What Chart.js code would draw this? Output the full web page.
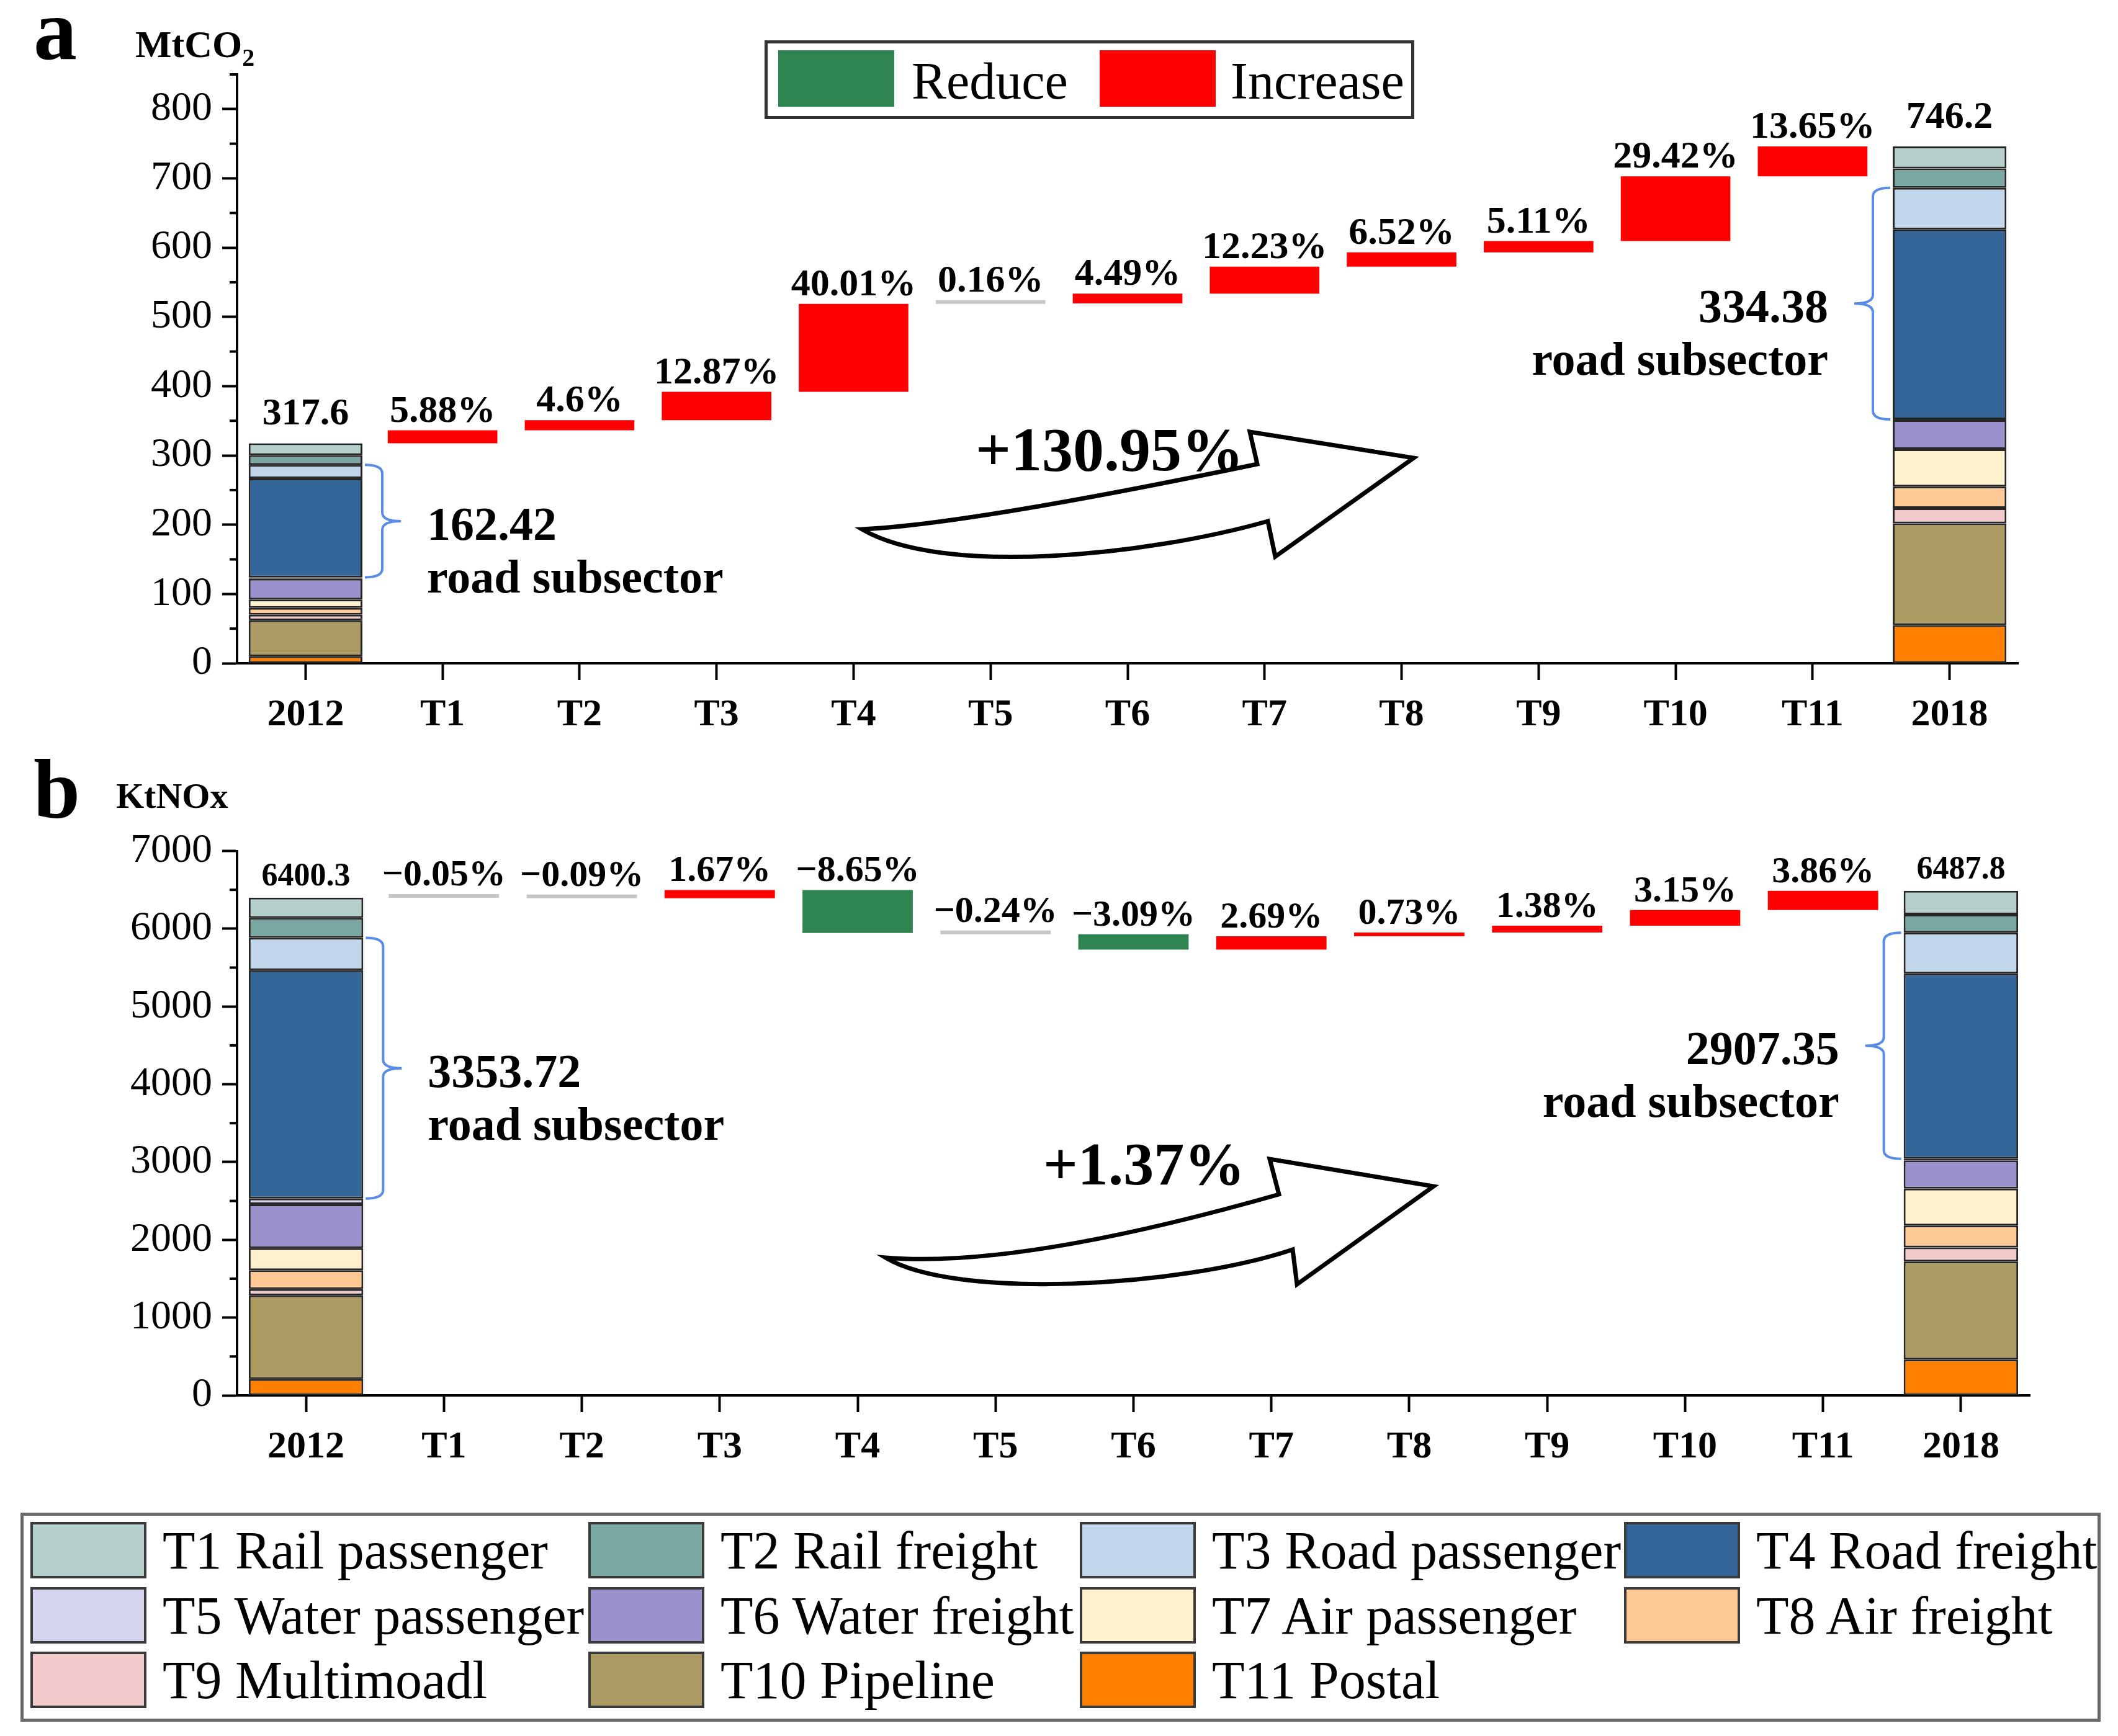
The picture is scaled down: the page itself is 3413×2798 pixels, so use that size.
<!DOCTYPE html>
<html>
<head>
<meta charset="utf-8">
<script src="https://cdn.jsdelivr.net/npm/chart.js@4.4.1/dist/chart.umd.min.js"></script>
<style>
body { margin:0; background:#fff; width:3413px; height:2798px; position:relative; overflow:hidden; font-family:"Liberation Serif", serif; color:#000; }
canvas { position:absolute; left:0; }
#chartA { top:0; }
#chartB { top:1240px; }
.tag { position:absolute; font-weight:bold; line-height:1; white-space:nowrap; }
.sw { position:absolute; width:187px; height:91px; box-sizing:border-box; border:4px solid #3a3a3a; }
.key { position:absolute; font-size:84px; line-height:1; white-space:nowrap; }
#stepKey { position:absolute; left:1232px; top:65px; width:1037px; height:117px; border:5px solid #333; background:#fff; }
#sectorKey { position:absolute; left:33px; top:2438px; width:3342px; height:327px; border:5px solid #6a6a6a; }
</style>
</head>
<body>
<canvas id="chartA" width="3413" height="1230"></canvas>
<canvas id="chartB" width="3413" height="1190"></canvas>

<div class="tag" style="left:54px;top:-22px;font-size:140px">a</div>
<div class="tag" style="left:218px;top:40px;font-size:62px">MtCO<sub style="font-size:40px;vertical-align:-14px">2</sub></div>
<div class="tag" style="left:54px;top:1204px;font-size:135px">b</div>
<div class="tag" style="left:187px;top:1254px;font-size:58px">KtNOx</div>

<div id="stepKey">
  <div class="sw" id="swReduce" style="left:17px;top:11px;border:none"></div>
  <div class="key" style="left:232px;top:19px">Reduce</div>
  <div class="sw" id="swIncrease" style="left:535px;top:11px;border:none"></div>
  <div class="key" style="left:746px;top:19px">Increase</div>
</div>
<div id="sectorKey"></div>

<script>
var categories = ['2012', 'T1', 'T2', 'T3', 'T4', 'T5', 'T6', 'T7', 'T8', 'T9', 'T10', 'T11', '2018'];
var sectorNames = ['T1 Rail passenger', 'T2 Rail freight', 'T3 Road passenger', 'T4 Road freight',
  'T5 Water passenger', 'T6 Water freight', 'T7 Air passenger', 'T8 Air freight',
  'T9 Multimoadl', 'T10 Pipeline', 'T11 Postal'];
var sectorColors = ['#B5D0CC', '#7AA7A1', '#C2D6EB', '#346699', '#D5D5EF', '#9A91CD',
  '#FFF0CE', '#FFC995', '#F3CACB', '#AC9A63', '#FF8000'];

// panel a : MtCO2, sector values T1..T11
var co2By2012 = [17.18, 14, 19.42, 143, 2, 30, 12, 10, 8, 52, 10];
var co2By2018 = [31.82, 28, 60, 274.38, 1, 42, 54, 31, 22, 147, 55];
var co2Totals = [317.6, 746.2];
var co2Road = [162.42, 334.38];
var co2Pct = [5.88, 4.6, 12.87, 40.01, 0.16, 4.49, 12.23, 6.52, 5.11, 29.42, 13.65];
var co2Step = [18.7, 14.6, 40.9, 127.1, 0.5, 14.3, 38.8, 20.7, 16.2, 93.4, 43.4];
var co2Growth = '+130.95%';

// panel b : KtNOx
var noxBy2012 = [262.58, 254, 417.72, 2936, 74, 564, 283, 243, 79, 1077, 210];
var noxBy2018 = [305.45, 233, 527.35, 2380, 20, 363, 476, 281, 180, 1261, 461];
var noxTotals = [6400.3, 6487.8];
var noxRoad = [3353.72, 2907.35];
var noxPct = [-0.05, -0.09, 1.67, -8.65, -0.24, -3.09, 2.69, 0.73, 1.38, 3.15, 3.86];
var noxStep = [-3.2, -5.8, 106.9, -553.6, -15.4, -197.8, 172.2, 46.7, 88.3, 201.6, 247.6];
var noxGrowth = '+1.37%';

var stepColors = { increase: '#FF0000', reduce: '#2F8552', small: '#C6C6C6' };
var braceColor = '#5A8CE6';

document.getElementById('swReduce').style.background = stepColors.reduce;
document.getElementById('swIncrease').style.background = stepColors.increase;

// sector legend box at the bottom
var keyBox = document.getElementById('sectorKey');
var keyCols = [11, 910, 1702, 2579];
var keyRows = [10, 115, 219];
sectorNames.forEach(function(name, i) {
  var c = i % 4, r = Math.floor(i / 4);
  var t = document.createElement('div');
  t.className = 'key';
  t.style.fontSize = '86px';
  t.style.left = (keyCols[c] + 213) + 'px';
  t.style.top = (keyRows[r] + 3) + 'px';
  t.textContent = name;
  keyBox.appendChild(t);
  var sw = document.createElement('div');
  sw.className = 'sw';
  sw.style.left = keyCols[c] + 'px';
  sw.style.top = keyRows[r] + 'px';
  sw.style.background = sectorColors[i];
  keyBox.appendChild(sw);
});

function makeDatasets(y2012, y2018, totals, pct, step) {
  var sets = [];
  // bottom of the stack is T11, so push in reverse order
  for (var s = sectorNames.length - 1; s >= 0; s--) {
    var d = categories.map(function() { return null; });
    d[0] = y2012[s];
    d[categories.length - 1] = y2018[s];
    sets.push({
      label: sectorNames[s], data: d, backgroundColor: sectorColors[s],
      borderColor: '#262626', borderWidth: 3, borderSkipped: false,
      barPercentage: 0.83, categoryPercentage: 1
    });
  }
  var level = totals[0];
  var wf = [null], wfColors = [null];
  for (var i = 0; i < step.length; i++) {
    wf.push([level, level + step[i]]);
    level += step[i];
    wfColors.push(Math.abs(pct[i]) < 0.3 ? stepColors.small : (step[i] > 0 ? stepColors.increase : stepColors.reduce));
  }
  wf.push(null);
  wfColors.push(null);
  sets.push({
    label: 'change', data: wf, backgroundColor: wfColors, borderWidth: 0,
    barPercentage: 0.8, categoryPercentage: 1, minBarLength: 6
  });
  return sets;
}

function drawBrace(ctx, x, yTop, yBot, dir) {
  var w = 28 * dir, tip = 58 * dir, mid = (yTop + yBot) / 2, r = 14;
  ctx.beginPath();
  ctx.moveTo(x, yTop);
  ctx.quadraticCurveTo(x + w, yTop, x + w, yTop + r);
  ctx.lineTo(x + w, mid - r);
  ctx.quadraticCurveTo(x + w, mid, x + tip, mid);
  ctx.quadraticCurveTo(x + w, mid, x + w, mid + r);
  ctx.lineTo(x + w, yBot - r);
  ctx.quadraticCurveTo(x + w, yBot, x, yBot);
  ctx.stroke();
  return { x: x + tip, y: mid };
}

var annotate = {
  id: 'annotate',
  afterDatasetsDraw: function(chart, args, o) {
    var ctx = chart.ctx, area = chart.chartArea, ys = chart.scales.y;
    var last = categories.length - 1;
    var nSets = chart.data.datasets.length;
    var stepMeta = chart.getDatasetMeta(nSets - 1);
    ctx.save();

    // minor ticks on the value axis
    ctx.strokeStyle = '#000';
    ctx.lineWidth = 4;
    for (var v = o.minor; v <= ys.max; v += 2 * o.minor) {
      var py = ys.getPixelForValue(v);
      ctx.beginPath();
      ctx.moveTo(area.left - 12, py);
      ctx.lineTo(area.left, py);
      ctx.stroke();
    }

    ctx.fillStyle = '#000';
    ctx.textAlign = 'center';
    ctx.textBaseline = 'alphabetic';

    // percentage labels over each step
    ctx.font = o.pctFont;
    for (var i = 0; i < o.pct.length; i++) {
      var el = stepMeta.data[i + 1];
      var top = Math.min(el.y, el.base);
      var p = o.pct[i];
      ctx.fillText((p < 0 ? '\u2212' + Math.abs(p) : p) + '%', el.x, top - o.gap);
    }

    // totals over the two stacked columns
    ctx.font = o.totalFont;
    [0, last].forEach(function(idx, k) {
      var x = chart.getDatasetMeta(0).data[idx].x;
      ctx.fillText(String(o.totals[k]), x, ys.getPixelForValue(o.totals[k]) - o.totalGap);
    });

    // road subsector braces (T3 + T4)
    var t3 = chart.getDatasetMeta(nSets - 1 - 3); // dataset of sector index 2
    var t4 = chart.getDatasetMeta(nSets - 1 - 4); // dataset of sector index 3
    ctx.strokeStyle = braceColor;
    ctx.lineWidth = 4;
    ctx.font = o.roadFont;
    [0, last].forEach(function(idx, k) {
      var a = t3.data[idx], b = t4.data[idx];
      var dir = k === 0 ? 1 : -1;
      var edge = a.x + dir * (a.width / 2 + 4);
      var tip = drawBrace(ctx, edge, a.y, b.base, dir);
      ctx.textAlign = k === 0 ? 'left' : 'right';
      var tx = tip.x + dir * 42;
      ctx.fillText(o.road[k].toFixed(2), tx, tip.y + 30);
      ctx.fillText('road subsector', tx, tip.y + 115);
    });

    // big hollow arrow with growth text
    var ar = o.arrow;
    ctx.strokeStyle = '#000';
    ctx.lineWidth = 7;
    ctx.lineJoin = 'miter';
    ctx.fillStyle = '#fff';
    ctx.beginPath();
    ctx.moveTo(ar.tail[0], ar.tail[1]);
    ctx.quadraticCurveTo(ar.up[0], ar.up[1], ar.notchUp[0], ar.notchUp[1]);
    ctx.lineTo(ar.barbUp[0], ar.barbUp[1]);
    ctx.lineTo(ar.tip[0], ar.tip[1]);
    ctx.lineTo(ar.barbLow[0], ar.barbLow[1]);
    ctx.lineTo(ar.notchLow[0], ar.notchLow[1]);
    ctx.bezierCurveTo(ar.low[0], ar.low[1], ar.low[2], ar.low[3], ar.tail[0], ar.tail[1]);
    ctx.closePath();
    ctx.fill();
    ctx.stroke();
    ctx.fillStyle = '#000';
    ctx.textAlign = 'left';
    ctx.font = o.growthFont;
    ctx.fillText(o.growth, o.growthAt[0], o.growthAt[1]);

    ctx.restore();
  }
};

function drawPanel(canvasId, opt) {
  return new Chart(document.getElementById(canvasId), {
    type: 'bar',
    data: { labels: categories, datasets: makeDatasets(opt.y2012, opt.y2018, opt.totals, opt.pct, opt.step) },
    options: {
      responsive: false,
      animation: false,
      devicePixelRatio: 1,
      layout: { padding: { left: 0, right: opt.padRight, top: opt.padTop, bottom: 0 } },
      plugins: { legend: { display: false }, tooltip: { enabled: false }, annotate: opt.notes },
      scales: {
        x: {
          stacked: true,
          offset: true,
          grid: { offset: false, drawOnChartArea: false, tickLength: 27, tickWidth: 4, tickColor: '#000' },
          border: { display: true, color: '#000', width: 4 },
          ticks: { color: '#000', padding: 20, autoSkip: false, maxRotation: 0,
                   font: { family: 'Liberation Serif', size: 62, weight: 'bold' } },
          afterFit: function(s) { s.height = opt.axisHeight; }
        },
        y: {
          stacked: true,
          min: 0,
          max: opt.max,
          grid: { drawOnChartArea: false, tickLength: 24, tickWidth: 4, tickColor: '#000' },
          border: { display: true, color: '#000', width: 4 },
          ticks: { stepSize: opt.stepSize, includeBounds: false, color: '#000', padding: 16,
                   font: { family: 'Liberation Serif', size: 66 },
                   callback: function(v) { return v; } },
          afterFit: function(s) { s.width = 382; }
        }
      }
    },
    plugins: [annotate]
  });
}

drawPanel('chartA', {
  y2012: co2By2012, y2018: co2By2018, totals: co2Totals, pct: co2Pct, step: co2Step,
  max: 850, stepSize: 100, padTop: 120, padRight: 161, axisHeight: 161,
  notes: {
    pct: co2Pct, totals: co2Totals, road: co2Road, minor: 50,
    pctFont: 'bold 62px "Liberation Serif"', gap: 14,
    totalFont: 'bold 62px "Liberation Serif"', totalGap: 30,
    roadFont: 'bold 76px "Liberation Serif"',
    growth: co2Growth, growthFont: 'bold 100px "Liberation Serif"', growthAt: [1572, 758],
    arrow: { tail: [1389, 853], up: [1560, 845], notchUp: [2026, 748], barbUp: [2014, 696],
             tip: [2278, 738], barbLow: [2055, 897], notchLow: [2043, 840], low: [1850, 895, 1520, 930] }
  }
});

drawPanel('chartB', {
  y2012: noxBy2012, y2018: noxBy2018, totals: noxTotals, pct: noxPct, step: noxStep,
  max: 7000, stepSize: 1000, padTop: 131.5, padRight: 142, axisHeight: 181,
  notes: {
    pct: noxPct, totals: noxTotals, road: noxRoad, minor: 500,
    pctFont: 'bold 60px "Liberation Serif"', gap: 14,
    totalFont: 'bold 52px "Liberation Serif"', totalGap: 20,
    roadFont: 'bold 76px "Liberation Serif"',
    growth: noxGrowth, growthFont: 'bold 98px "Liberation Serif"', growthAt: [1681, 669],
    arrow: { tail: [1427, 787], up: [1640, 805], notchUp: [2061, 685], barbUp: [2046, 628],
             tip: [2310, 672], barbLow: [2090, 830], notchLow: [2083, 774], low: [1900, 835, 1540, 855] }
  }
});
</script>
</body>
</html>
